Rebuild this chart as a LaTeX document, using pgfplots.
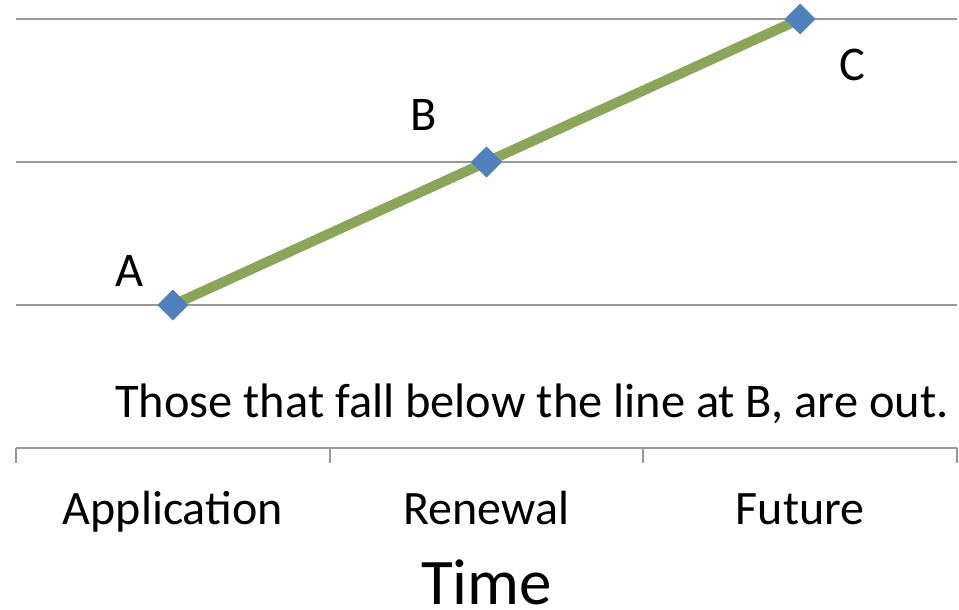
\documentclass[border=0pt]{standalone}
\usepackage{pgfplots}
\pgfplotsset{compat=1.18}
\usepackage{fontspec}
\setmainfont{Carlito}
\definecolor{linegreen}{HTML}{8BA65A}
\definecolor{markblue}{HTML}{4F81BD}
\definecolor{gridgray}{HTML}{989898}
\begin{document}
\begin{tikzpicture}
\useasboundingbox (-8bp,-81bp) rectangle (471.5bp,224bp);
\begin{axis}[
  scale only axis,
  width=470.5bp, height=214.5bp,
  xmin=-0.5, xmax=2.5, ymin=0, ymax=3,
  axis lines=none,
  clip=false,
  xtick=\empty, ytick=\empty,
]
% gridlines
\addplot[gridgray, line width=1bp, forget plot] coordinates {(-0.5,1) (2.5,1)};
\addplot[gridgray, line width=1bp, forget plot] coordinates {(-0.5,2) (2.5,2)};
\addplot[gridgray, line width=1bp, forget plot] coordinates {(-0.5,3) (2.5,3)};
% axis line and ticks
\addplot[gridgray, line width=1bp, forget plot] coordinates {(-0.5,0) (2.5,0)};
\draw[gridgray, line width=1bp] (axis cs:-0.5,0) -- ([yshift=-7.5bp]axis cs:-0.5,0);
\draw[gridgray, line width=1bp] (axis cs:0.5,0) -- ([yshift=-7.5bp]axis cs:0.5,0);
\draw[gridgray, line width=1bp] (axis cs:1.5,0) -- ([yshift=-7.5bp]axis cs:1.5,0);
\draw[gridgray, line width=1bp] (axis cs:2.5,0) -- ([yshift=-7.5bp]axis cs:2.5,0);
% data
\addplot[linegreen, line width=5bp, mark=square*, mark size=5.4bp,
  mark options={fill=markblue, draw=markblue, line width=0.1bp, solid, rotate=45}]
  coordinates {(0,1) (1,2) (2,3)};
% point labels
\node[anchor=base, font=\fontsize{24.2bp}{29bp}\selectfont] at (axis cs:-0.137,1.126) {A};
\node[anchor=base, font=\fontsize{24.2bp}{29bp}\selectfont] at (axis cs:0.8,2.217) {B};
\node[anchor=base, font=\fontsize{24.2bp}{29bp}\selectfont] at (axis cs:2.166,2.573) {C};
% annotation
\node[anchor=base, font=\fontsize{24.2bp}{29bp}\selectfont] at (axis cs:1.145,0.21) {Those that fall below the line at B, are out.};
% category labels
\node[anchor=base, font=\fontsize{24bp}{29bp}\selectfont] at ([yshift=-38bp]axis cs:0,0) {Application};
\node[anchor=base, font=\fontsize{24bp}{29bp}\selectfont] at ([yshift=-38bp]axis cs:1,0) {Renewal};
\node[anchor=base, font=\fontsize{24bp}{29bp}\selectfont] at ([yshift=-38bp]axis cs:2,0) {Future};
% axis title
\node[anchor=base, inner sep=0pt, font=\fontsize{32.5bp}{38bp}\selectfont] at ([yshift=-78bp]axis cs:1,0) {Time};
\end{axis}
\end{tikzpicture}
\end{document}
